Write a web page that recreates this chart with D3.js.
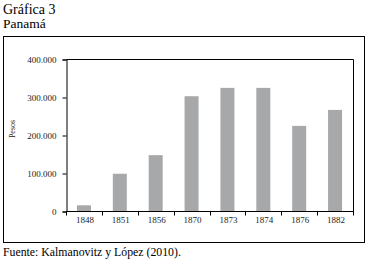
<!DOCTYPE html>
<html>
<head>
<meta charset="utf-8">
<script src="https://cdn.jsdelivr.net/npm/d3@7"></script>
<style>
  body { margin: 0; background: #fff; }
  svg { display: block; }
</style>
</head>
<body>
<svg width="369" height="262"></svg>
<script>
// data
var years = ["1848", "1851", "1856", "1870", "1873", "1874", "1876", "1882"];
var pesos = [15000, 98000, 147000, 302000, 324000, 324000, 224000, 266000];
var yTicks = [0, 100000, 200000, 300000, 400000];

var svg = d3.select("svg");
var serif = "'Liberation Serif', 'DejaVu Serif', serif";

// titles
svg.append("text").attr("x", 3).attr("y", 13.5)
  .style("font-family", serif).style("font-size", "14px").text("Gráfica 3");
svg.append("text").attr("x", 3).attr("y", 27.5)
  .style("font-family", serif).style("font-size", "13.5px").text("Panamá");

// outer frame
svg.append("rect").attr("x", 3.5).attr("y", 36.5).attr("width", 361).attr("height", 206)
  .attr("fill", "none").attr("stroke", "#000").attr("stroke-width", 1);

// plot area
var pLeft = 66, pRight = 353, pTop = 59, pBottom = 211;

var x = d3.scaleBand().domain(years).range([pLeft, pRight]).paddingInner(0.61).paddingOuter(0.305);
var y = d3.scaleLinear().domain([0, 400000]).range([pBottom, pTop]);

// bars
svg.selectAll("rect.bar")
  .data(years)
  .enter()
  .append("rect")
  .attr("class", "bar")
  .attr("x", d => x(d))
  .attr("width", x.bandwidth())
  .attr("y", (d, i) => y(pesos[i]))
  .attr("height", (d, i) => pBottom - y(pesos[i]))
  .attr("fill", "#a7a8aa");

// plot frame (top and right)
svg.append("path")
  .attr("d", "M" + (pLeft + 0.5) + "," + (pTop + 0.5) + "H" + (pRight + 0.5) + "V" + (pBottom + 0.5))
  .attr("fill", "none").attr("stroke", "#000");

// y axis
var yAxis = d3.axisLeft(y)
  .tickValues(yTicks)
  .tickSizeOuter(0)
  .tickSize(4)
  .tickPadding(6)
  .tickFormat(d => d3.format(",")(d).replace(/,/g, "."));
svg.append("g").attr("transform", "translate(" + (pLeft + 0.5) + ",0.5)")
  .call(yAxis)
  .call(g => g.selectAll("text").style("font-family", serif).style("font-size", "9px").attr("fill", "#222"));

// x axis with ticks at category boundaries
var step = x.step();
var xa = svg.append("g").attr("transform", "translate(0," + (pBottom + 0.5) + ")");
xa.append("line").attr("x1", pLeft).attr("x2", pRight + 1).attr("stroke", "#000");
xa.selectAll("line.tk")
  .data(d3.range(years.length + 1))
  .enter()
  .append("line")
  .attr("class", "tk")
  .attr("x1", i => Math.round(pLeft + i * step) + 0.5)
  .attr("x2", i => Math.round(pLeft + i * step) + 0.5)
  .attr("y1", 0).attr("y2", 4)
  .attr("stroke", "#000");
xa.selectAll("text")
  .data(years)
  .enter()
  .append("text")
  .attr("x", d => x(d) + x.bandwidth() / 2 + 1)
  .attr("y", 11.5)
  .attr("text-anchor", "middle")
  .style("font-family", serif).style("font-size", "9px").attr("fill", "#222")
  .text(d => d);

// y label
svg.append("text")
  .attr("transform", "translate(15,129) rotate(-90)")
  .attr("text-anchor", "middle")
  .style("font-family", serif).style("font-size", "8px").attr("fill", "#222")
  .text("Pesos");

// source
svg.append("text").attr("x", 3).attr("y", 256)
  .style("font-family", serif).style("font-size", "11.8px")
  .text("Fuente: Kalmanovitz y López (2010).");
</script>
</body>
</html>
